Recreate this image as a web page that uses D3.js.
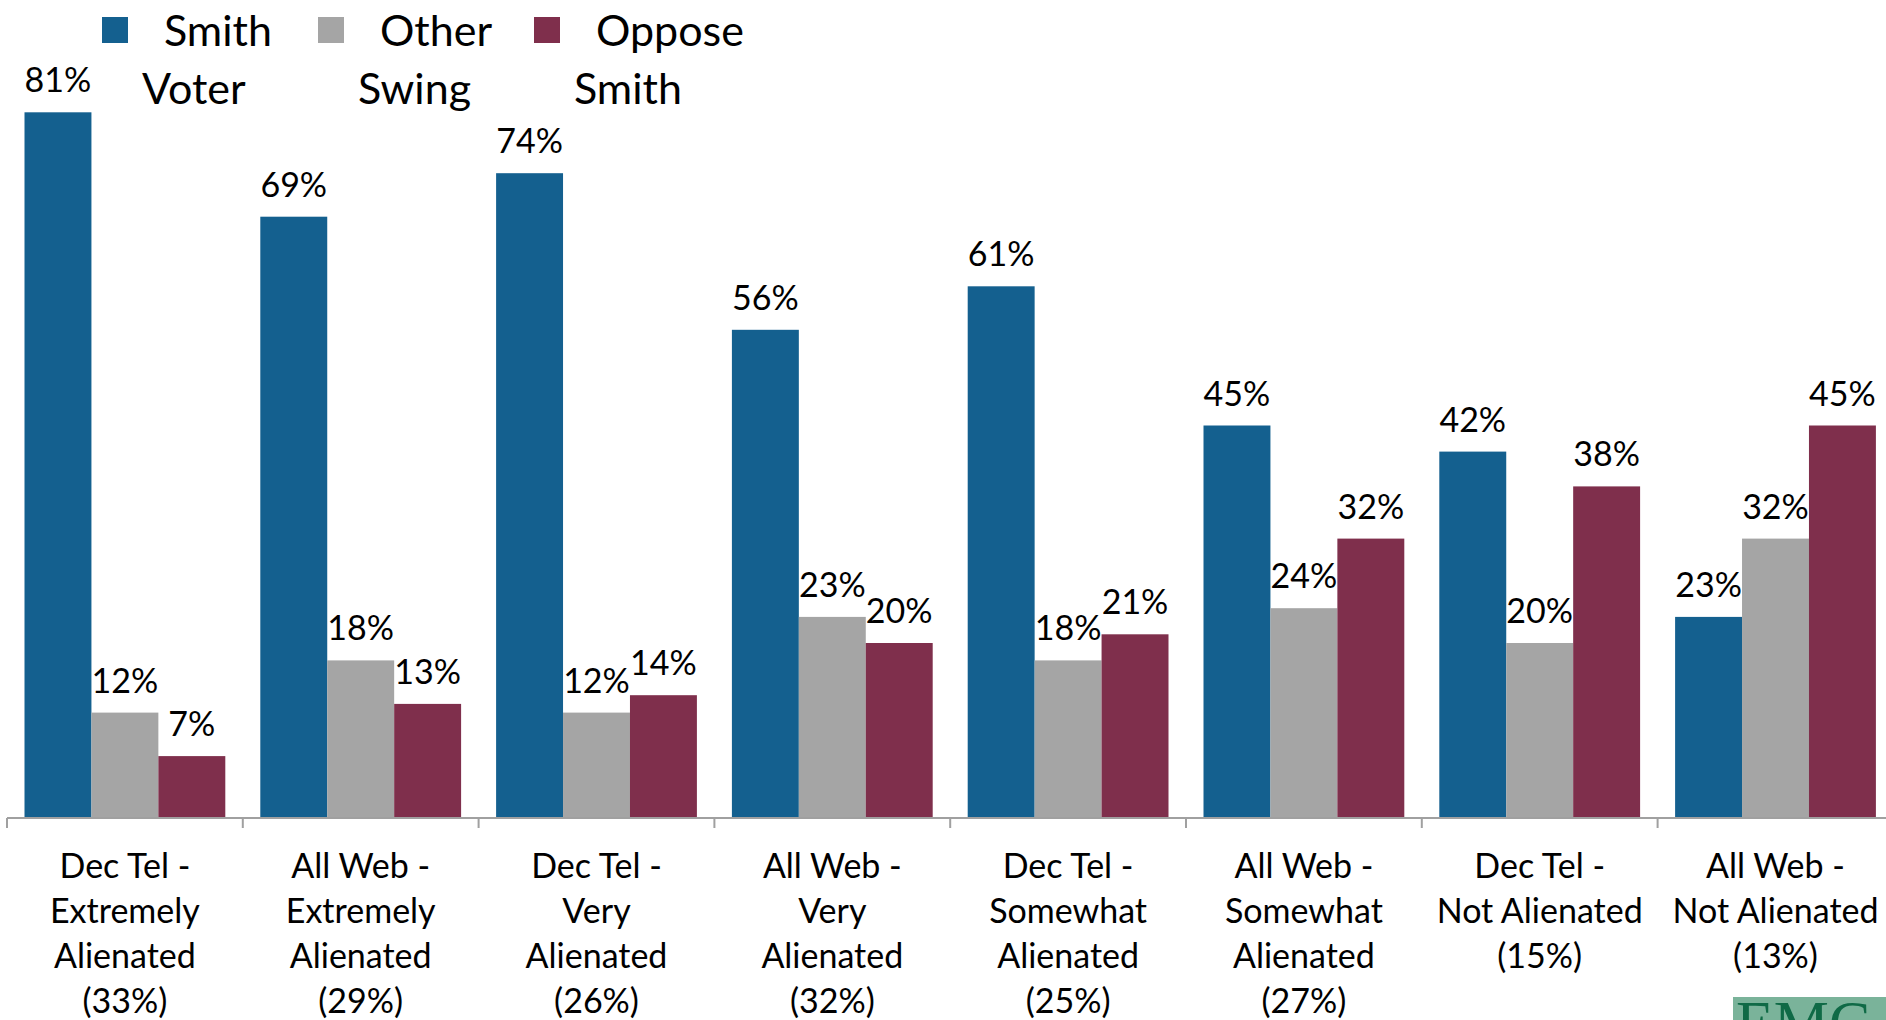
<!DOCTYPE html>
<html>
<head>
<meta charset="utf-8">
<script src="https://cdn.jsdelivr.net/npm/d3@7"></script>
<style>
  html, body { margin: 0; padding: 0; background: #fff; overflow: hidden; }
  svg { display: block; font-family: Lato, "Open Sans", sans-serif; }
</style>
</head>
<body>
<svg id="chart" width="1886" height="1020"></svg>
<script>
// ---- data ----
const categories = [
  ["Dec Tel -", "Extremely", "Alienated", "(33%)"],
  ["All Web -", "Extremely", "Alienated", "(29%)"],
  ["Dec Tel -", "Very", "Alienated", "(26%)"],
  ["All Web -", "Very", "Alienated", "(32%)"],
  ["Dec Tel -", "Somewhat", "Alienated", "(25%)"],
  ["All Web -", "Somewhat", "Alienated", "(27%)"],
  ["Dec Tel -", "Not Alienated", "(15%)"],
  ["All Web -", "Not Alienated", "(13%)"]
];
const seriesNames = ["Smith Voter", "Other Swing", "Oppose Smith"];
const legendLines = [["Smith", "Voter"], ["Other", "Swing"], ["Oppose", "Smith"]];
const smithVoter = [81, 69, 74, 56, 61, 45, 42, 23];
const otherSwing = [12, 18, 12, 23, 18, 24, 20, 32];
const opposeSmith = [7, 13, 14, 20, 21, 32, 38, 45];
const colors = ["#14608F", "#A5A5A5", "#7F2F4C"];

const series = [smithVoter, otherSwing, opposeSmith];
const svg = d3.select("#chart");

const baseY = 817;
const x0 = d3.scaleBand().domain(d3.range(categories.length)).range([7, 7 + 235.8 * 8]).paddingInner(0).paddingOuter(0);
const x1 = d3.scaleBand().domain(d3.range(3)).range([17.5, x0.bandwidth() - 17.5]).padding(0);
const y = d3.scaleLinear().domain([0, 100]).range([baseY, baseY - 870]);

// bars
const groups = svg.append("g").selectAll("g")
  .data(categories.map((c, i) => i))
  .join("g")
  .attr("transform", i => `translate(${x0(i)},0)`);

groups.selectAll("rect")
  .data(i => series.map((s, k) => ({k, v: s[i]})))
  .join("rect")
  .attr("x", d => x1(d.k))
  .attr("width", x1.bandwidth())
  .attr("y", d => y(d.v))
  .attr("height", d => baseY - y(d.v))
  .attr("fill", d => colors[d.k]);

groups.selectAll("text.lbl")
  .data(i => series.map((s, k) => ({k, v: s[i]})))
  .join("text")
  .attr("class", "lbl")
  .attr("x", d => x1(d.k) + x1.bandwidth() / 2)
  .attr("y", d => y(d.v) - 20)
  .attr("text-anchor", "middle")
  .attr("font-size", 34)
  .attr("fill", "#000")
  .text(d => d.v + "%");

// axis
const axisG = svg.append("g").attr("transform", `translate(0,${baseY + 1})`);
const tickPos = d3.range(categories.length + 1).map(i => 7 + 235.8 * i);
axisG.append("line").attr("x1", 7).attr("x2", 1886).attr("y1", 0).attr("y2", 0)
  .attr("stroke", "#A0A0A0").attr("stroke-width", 2);
axisG.selectAll("line.tick").data(tickPos).join("line").attr("class", "tick")
  .attr("x1", d => d).attr("x2", d => d).attr("y1", 0).attr("y2", 10)
  .attr("stroke", "#A0A0A0").attr("stroke-width", 2);

// category labels
const catG = svg.append("g").selectAll("text")
  .data(categories)
  .join("text")
  .attr("text-anchor", "middle")
  .attr("font-size", 34)
  .attr("fill", "#000")
  .attr("transform", (d, i) => `translate(${x0(i) + x0.bandwidth() / 2},878)`);
catG.selectAll("tspan")
  .data(d => d)
  .join("tspan")
  .attr("x", 0)
  .attr("y", (d, j) => j * 45)
  .text(d => d);

// legend
const legendX = [102, 318, 534];
const leg = svg.append("g").selectAll("g").data(legendLines).join("g")
  .attr("transform", (d, i) => `translate(${legendX[i]},0)`);
leg.append("rect").attr("x", 0).attr("y", 17).attr("width", 26).attr("height", 26)
  .attr("fill", (d, i) => colors[i]);
leg.append("text").attr("x", 62).attr("y", 46).attr("font-size", 43).attr("fill", "#000")
  .text(d => d[0]);
leg.append("text").attr("x", 40).attr("y", 104).attr("font-size", 43).attr("fill", "#000")
  .text(d => d[1]);

// logo fragment
svg.append("rect").attr("x", 1733).attr("y", 997).attr("width", 153).attr("height", 30).attr("fill", "#7AB39A");
svg.append("text").attr("x", 1736).attr("y", 1043).attr("font-family", "Liberation Serif, serif")
  .attr("font-size", 62).attr("fill", "#0F6A46").text("EMC");
</script>
</body>
</html>
